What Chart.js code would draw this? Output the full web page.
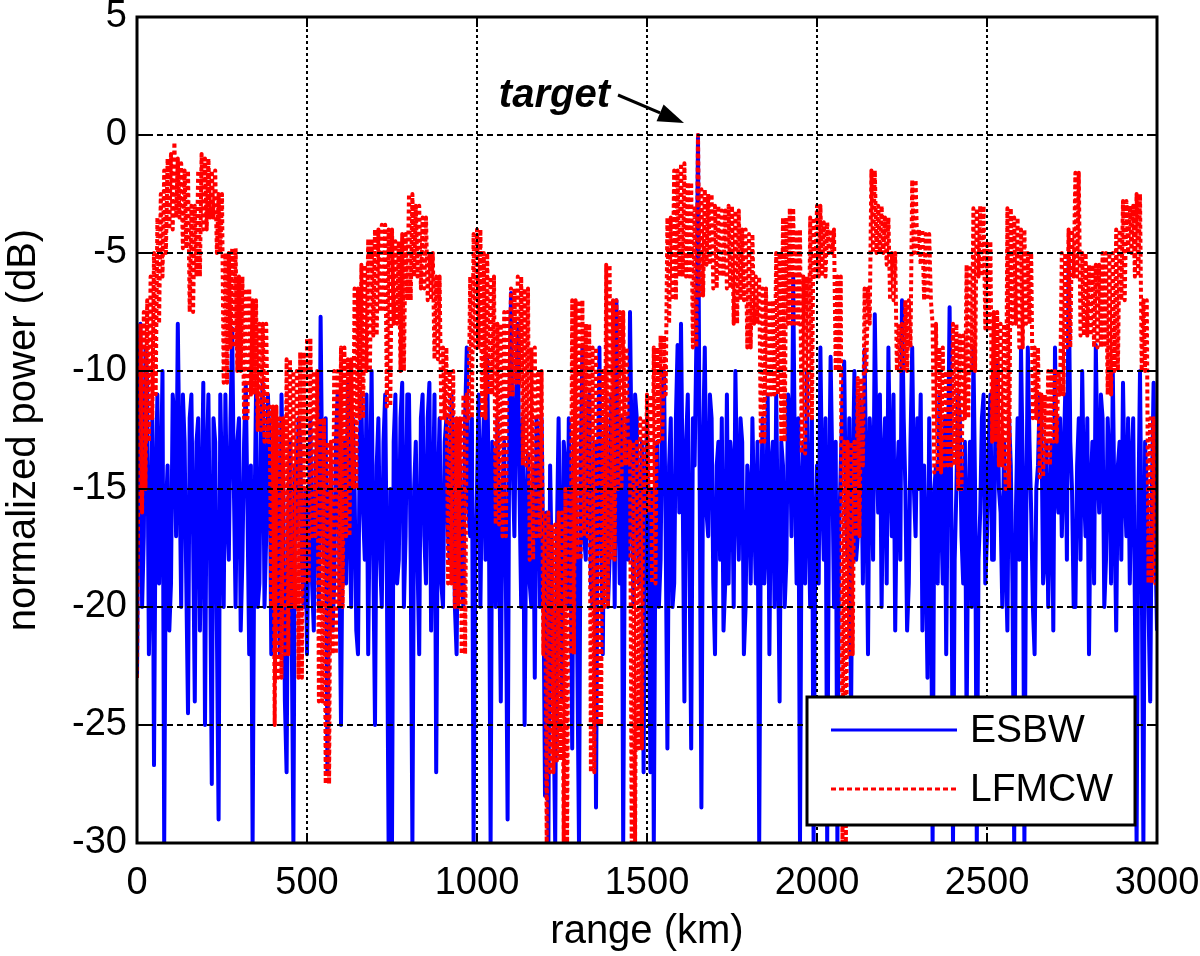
<!DOCTYPE html>
<html lang="en">
<head>
<meta charset="UTF-8">
<title>ESBW vs LFMCW range profile</title>
<script src="https://cdn.jsdelivr.net/npm/chart.js"></script>
<style>
  html, body { margin: 0; padding: 0; background: #fff; }
  #wrap { width: 1200px; height: 956px; }
</style>
</head>
<body>
<div id="wrap"><canvas id="rangeChart" width="1200" height="956"></canvas></div>
<script>
// samples every 5 km, 0..3000 km (20 values per 100 km row)
const rangeStep = 5;

// normalized power (dB)
const esbw = [
  -23,-13,-8,-20,-17,-9,-10.5,-22,-18,-12,-26.7,-15,-11,-19,-15,-10,-30,-16,-14,-21,
  -19,-11,-12,-17,-8,-14,-20,-11,-13,-19,-24.5,-12,-11,-17,-24,-13,-12,-21,-16,-10.5,
  -25,-14,-11,-18,-27.5,-12,-13,-21,-29,-11,-15,-20,-11,-16,-18,-12,-8.2,-15,-20,-13,
  -12,-21,-18,-13,-10.5,-16,-22,-14,-30,-17,-11,-20,-19,-12,-10.5,-20,-17,-11,-13,-22,
  -20,-14,-12,-19,-22,-11,-15,-24,-27,-16,-13,-21,-30,-14,-17,-12,-13,-18,-20,-15,
  -22,-16,-12,-19,-21,-14,-13,-20,-7.7,-15,-18,-12,-27,-17,-14,-21,-19,-13,-11,-18,
  -25,-16,-13,-19,-10.5,-16,-20,-12,-15,-21,-22,-13,-11,-16,-18,-11,-22,-15,-10,-18,
  -25,-14,-12,-18,-20,-13,-11,-19,-30,-15,-30,-13,-11,-19,-18,-12,-10.5,-20,-17,-11,
  -11,-18,-30,-15,-13,-18,-22,-12,-11,-17,-19,-12,-10.5,-21,-16,-11,-27,-15,-12,-19,
  -20,-13,-12,-17,-18,-11,-13,-20,-22,-15,-14,-19,-20,-12,-9,-16,-17,-12,-30,-18,
  -15,-11,-20,-14,-12,-18,-9.5,-16,-30,-13,-14,-20,-12,-17,-24,-15,-13,-19,-29,-12,
  -6.7,-14,-17,-11,-8,-15,-20,-12,-25,-16,-13.5,-19,-20,-14,-23,-12,-13,-20,-12,-18,
  -28,-16,-30,-14,-18.5,-24,-30,-17,-12,-18,-24,-13,-14,-20,-12,-17,-26,-13,-15,-22,
  -30,-14,-9,-17,-18,-12,-11,-19,-20,-13,-28.5,-15,-9,-16,-22,-13,-12,-20,-18,-11,
  -13,-20,-7,-15,-19,-12,-30,-16,-12,-18,-7.5,-14,-20,-11,-12,-19,-18,-13,-27,-16,
  -12,-18,-27,-15,-30,-16,-13,-20,-18,-11,-10,-17,-26,-14,-12,-20,-19,-12,-8.9,-16,
  -8,-15,-24,-13,-11,-18,-26,-12,-14,-9,0,-15,-28.5,-13,-9,-16,-17,-11,-12,-19,
  -22,-14,-13,-18,-12,-21,-19,-11,-19,-13,-14,-20,-10,-15,-18,-12,-13,-22,-20,-14,
  -15,-19,-12,-16,-19,-13,-30,-16,-12,-19,-17,-11,-22,-14,-13,-20,-11,-17,-24,-13,
  -14,-20,-18,-11,-12,-17,-6,-14,-19,-12,-30,-15,-13,-19,-10,-16,-20,-12,-30,-17,
  -14,-19,-9,-15,-18,-12,-30,-16,-9.4,-14,-20,-13,-30,-17,-14,-11,-9.6,-16,-18,-12,
  -25,-15,-10,-18,-17,-11,-13,-19,-9.1,-15,-22,-12,-14,-18,-7.6,-13,-16,-11,-20,-14,
  -12,-19,-9,-14,-17,-11,-21,-15,-13,-18,-7,-12,-15,-21,-19,-13,-9,-15,-17,-12,
  -15,-11,-21,-14,-18,-23,-12,-17,-30,-15,-14,-19,-11,-16,-19,-12,-22,-14,-7.3,-16,
  -30,-18,-15,-11,-12,-17,-19,-13,-25,-16,-13,-20,-9,-15,-30,-18,-16,-12,-11,-19,
  -17,-13,-11,-18,-18,-12,-9.7,-15,-16,-20,-13,-18,-21,-12,-14,-19,-30,-16,-12,-18,
  -9,-14,-30,-17,-9,-13,-16,-20,-22,-15,-14,-11,-12,-19,-18,-13,-20,-16,-13,-21,
  -9,-15,-16,-12,-17,-14,-11,-18,-5.2,-13,-15,-20,-20,-14,-12,-18,-10,-15,-17,-12,
  -22,-15,-13,-19,-8.9,-14,-16,-11,-12,-20,-18,-12,-14,-19,-10,-16,-21,-14,-13,-18,
  -10.5,-15,-17,-12,-19,-14,-12,-20,-30,-16,-10,-18,-30,-13,-15,-20,-24,-15,-10.5,-17,
  -21
];

const lfmcw = [
  -23,-12,-8,-16,-7.5,-15,-7,-13,-6,-12,-5,-11,-3.5,-8,-2.5,-6,-1.5,-5,-1,-4,
  -0.8,-4,-0.3,-3.5,-1,-3.5,-1.2,-4.8,-1.5,-4.8,-1.5,-7.5,-3,-7.5,-3,-6,-1.5,-6,-0.8,-4,
  -1,-4,-1,-3.5,-1.5,-3.5,-1.5,-5,-2.5,-5,-2.5,-10.5,-5,-10.5,-5,-9,-4.8,-9,-4.8,-10,
  -6,-10,-6,-12,-6.5,-12,-6.5,-11,-7,-11,-7,-12.5,-8,-12.5,-8,-13,-8,-13,-11.5,-20,
  -11.5,-25,-11.5,-23,-12,-23,-12,-22,-9.5,-22,-9.5,-20,-10,-20,-10,-23,-9.2,-23,-9.2,-19,
  -8.6,-19,-8.6,-17,-10,-17,-10,-24,-12,-24,-12,-27.5,-13,-27.5,-13,-22,-10,-22,-10,-20,
  -9,-20,-9,-17,-9.5,-17,-9.5,-15,-6.5,-15,-6.5,-12,-5.5,-12,-5.5,-10,-4.4,-10,-4.4,-8.5,
  -4,-8.5,-4,-7.5,-3.8,-7.5,-3.8,-11.5,-4,-11.5,-4,-8,-4.5,-8,-4.5,-10,-4.2,-10,-4.2,-7,
  -2.5,-7,-2.5,-6,-3,-6,-3,-6.5,-3.5,-6.5,-3.5,-7,-5,-7,-5,-9.5,-6,-9.5,-6,-12,
  -9,-12,-9,-19,-10,-19,-10,-20,-12,-20,-12,-22,-11,-22,-11,-12,-6,-12,-4.2,-9,
  -4,-9,-4,-12,-5,-12,-5,-11,-6,-11,-6,-16.5,-8,-16.5,-8,-17,-7.5,-17,-7.5,-11,
  -6.5,-11,-6.5,-10.5,-6,-10.5,-6,-14,-6.5,-14,-6.5,-18,-9,-18,-9,-17,-10,-17,-10,-22,
  -16,-30,-16,-27,-16.5,-27,-16.5,-26.5,-16,-26.5,-16,-30,-15,-30,-15,-22,-7,-22,-7,-18,
  -7,-18,-7,-17,-8,-17,-8,-27,-9,-27,-9,-25,-10,-25,-10,-20,-5.5,-20,-5.5,-18,
  -7,-18,-7,-15,-7.5,-15,-7.5,-14,-9,-14,-13,-30,-13,-30,-13,-26,-12,-26,-12,-16,
  -11,-16,-11,-19,-9,-19,-9,-13,-8.5,-13,-8.5,-11,-3.5,-8,-3.5,-7,-1.5,-7,-1.5,-6,
  -1.2,-6,-1.2,-6,-2,-6,-2,-9,-3,-9,0,-6.8,-2.3,-6.8,-2.3,-5.5,-2.5,-5.5,-2.5,-6.5,
  -3,-6.5,-3,-6,-3.2,-6,-3.2,-6.5,-3,-6.5,-3,-8,-3.2,-8,-3.2,-7,-4,-7,-4,-9,
  -4.2,-9,-4.2,-8,-6,-8,-6,-13,-6.5,-13,-6.5,-11,-7,-11,-7,-11,-5,-11,-5,-13,
  -3.5,-13,-3.5,-8,-3.1,-8,-3.1,-8,-4,-8,-4,-13.5,-6,-13.5,-6,-12,-3.5,-12,-3.5,-6,
  -3,-6,-3,-6,-3.7,-6,-3.7,-5,-4,-5,-4,-10,-6,-10,-6,-30,-13,-30,-13,-22,
  -13,-22,-13,-17,-10.3,-17,-10.3,-14,-6.5,-10,-6.5,-8,-1.5,-5,-1.5,-5,-3,-5,-3,-5,
  -3.5,-5.5,-3.5,-7,-5,-7,-5,-10,-8,-10,-8,-10,-7,-10,-7,-9,-1.9,-5,-1.9,-5,
  -4,-5.5,-4,-7,-4.2,-7,-4.2,-7,-8,-14.3,-8,-14.3,-9,-14.3,-9,-14,-10,-14,-10,-14,
  -8,-14,-8,-15,-8.5,-15,-8.5,-12,-5.5,-12,-5.5,-10,-3.1,-10,-3.1,-6,-3,-6,-3,-8.2,
  -4.5,-8.2,-4.5,-13,-7.5,-13,-7.5,-14,-8,-14,-8,-15,-3.1,-15,-3.1,-8,-3.5,-8,-3.5,-9,
  -4,-9,-4,-8,-5,-8,-5,-12,-9,-12,-9,-14.5,-11,-14.5,-11,-14,-10,-14,-10,-13,
  -10,-13,-10,-11,-5,-11,-5,-9,-4,-9,-4,-6,-1.6,-6,-1.6,-8.5,-5,-8.5,-5,-8.5,
  -5.5,-8.5,-5.5,-9,-5.5,-9,-5.5,-9,-5,-9,-5,-11,-5,-11,-5,-10,-4,-10,-4,-7,
  -2.8,-7,-2.8,-5,-3,-5,-3,-6,-2.5,-6,-2.5,-10,-7,-10,-7,-19,-12,-19,-12,-19,
  -19
];

const seriesNames = ['ESBW', 'LFMCW'];
const target = { range: 1650, power: 0, label: 'target' };

const FONT = '"Liberation Sans", Arial, Helvetica, sans-serif';

function toPoints(arr) {
    return arr.map((v, i) => ({ x: i * rangeStep, y: v }));
}

// black frame, inward ticks, legend box and the target annotation
const matlabLook = {
    id: 'matlabLook',
    afterDraw(chart) {
        const { ctx, chartArea: a, scales } = chart;
        const xs = scales.x, ys = scales.y;
        ctx.save();

        // legend box
        const lx1 = a.right - 22, ly2 = a.bottom - 18;
        const lx0 = lx1 - 328, ly0 = ly2 - 128;
        ctx.fillStyle = '#fff';
        ctx.fillRect(lx0, ly0, lx1 - lx0, ly2 - ly0);
        ctx.lineWidth = 3;
        ctx.strokeStyle = '#000';
        ctx.strokeRect(lx0, ly0, lx1 - lx0, ly2 - ly0);

        const rows = [ly0 + 33, ly0 + 92];
        ctx.lineWidth = 3;
        ctx.strokeStyle = '#0000ff';
        ctx.beginPath();
        ctx.moveTo(lx0 + 24, rows[0]);
        ctx.lineTo(lx0 + 150, rows[0]);
        ctx.stroke();
        ctx.strokeStyle = '#ff0000';
        ctx.setLineDash([5, 3]);
        ctx.beginPath();
        ctx.moveTo(lx0 + 24, rows[1]);
        ctx.lineTo(lx0 + 150, rows[1]);
        ctx.stroke();
        ctx.setLineDash([]);

        ctx.fillStyle = '#000';
        ctx.font = '39px ' + FONT;
        ctx.textBaseline = 'middle';
        ctx.textAlign = 'left';
        ctx.fillText(seriesNames[0], lx0 + 163, rows[0] + 1);
        ctx.fillText(seriesNames[1], lx0 + 163, rows[1] + 1);

        // inward ticks
        ctx.lineWidth = 2;
        ctx.strokeStyle = '#000';
        ctx.beginPath();
        xs.ticks.forEach(t => {
            const px = xs.getPixelForValue(t.value);
            ctx.moveTo(px, a.bottom); ctx.lineTo(px, a.bottom - 10);
            ctx.moveTo(px, a.top); ctx.lineTo(px, a.top + 10);
        });
        ys.ticks.forEach(t => {
            const py = ys.getPixelForValue(t.value);
            ctx.moveTo(a.left, py); ctx.lineTo(a.left + 10, py);
            ctx.moveTo(a.right, py); ctx.lineTo(a.right - 10, py);
        });
        ctx.stroke();

        // frame
        ctx.lineWidth = 3;
        ctx.strokeRect(a.left, a.top, a.right - a.left, a.bottom - a.top);

        // target annotation
        const tx = xs.getPixelForValue(target.range);
        const ty = ys.getPixelForValue(target.power);
        ctx.font = 'italic bold 40px ' + FONT;
        ctx.textAlign = 'right';
        ctx.textBaseline = 'alphabetic';
        ctx.fillText(target.label, tx - 88, ty - 28);

        const sx = tx - 80, sy = ty - 40;
        const ex = tx - 14, ey = ty - 12;
        const ang = Math.atan2(ey - sy, ex - sx);
        const headLen = 26, headW = 9;
        const bx = ex - headLen * Math.cos(ang), by = ey - headLen * Math.sin(ang);
        ctx.lineWidth = 3;
        ctx.beginPath();
        ctx.moveTo(sx, sy);
        ctx.lineTo(bx, by);
        ctx.stroke();
        ctx.beginPath();
        ctx.moveTo(ex, ey);
        ctx.lineTo(bx + headW * Math.sin(ang), by - headW * Math.cos(ang));
        ctx.lineTo(bx - headW * Math.sin(ang), by + headW * Math.cos(ang));
        ctx.closePath();
        ctx.fill();

        ctx.restore();
    }
};

const ctx = document.getElementById('rangeChart').getContext('2d');
const chart = new Chart(ctx, {
    type: 'line',
    data: {
        datasets: [
            {
                label: seriesNames[1],
                data: toPoints(lfmcw),
                borderColor: '#ff0000',
                borderWidth: 4,
                borderDash: [4, 3],
                pointRadius: 0,
                tension: 0,
                borderJoinStyle: 'round',
                order: 0
            },
            {
                label: seriesNames[0],
                data: toPoints(esbw),
                borderColor: '#0000ff',
                borderWidth: 4,
                pointRadius: 0,
                tension: 0,
                borderJoinStyle: 'round',
                order: 1
            }
        ]
    },
    options: {
        responsive: false,
        animation: false,
        devicePixelRatio: 1,
        layout: { padding: { top: 17, right: 43, left: 0, bottom: 0 } },
        plugins: {
            legend: { display: false },
            tooltip: { enabled: false }
        },
        scales: {
            x: {
                type: 'linear',
                min: 0,
                max: 3000,
                ticks: {
                    stepSize: 500,
                    color: '#000',
                    padding: 18,
                    maxRotation: 0,
                    font: { family: FONT, size: 38 },
                    callback: v => String(v)
                },
                grid: { color: '#000', lineWidth: 2, drawTicks: false, z: 1 },
                border: { display: false, dash: [3, 3] },
                title: {
                    display: true,
                    text: 'range (km)',
                    color: '#000',
                    padding: 0,
                    font: { family: FONT, size: 40 }
                },
                afterFit(scale) {
                    scale.height = 113;
                    scale.paddingLeft = 0;
                    scale.paddingRight = 0;
                }
            },
            y: {
                min: -30,
                max: 5,
                ticks: {
                    stepSize: 5,
                    color: '#000',
                    padding: 10,
                    font: { family: FONT, size: 38 }
                },
                grid: { color: '#000', lineWidth: 2, drawTicks: false, z: 1 },
                border: { display: false, dash: [6, 4] },
                title: {
                    display: true,
                    text: 'normalized power (dB)',
                    color: '#000',
                    padding: 0,
                    font: { family: FONT, size: 40 }
                },
                afterFit(scale) {
                    scale.width = 137;
                    scale.paddingTop = 0;
                    scale.paddingBottom = 0;
                }
            }
        }
    },
    plugins: [matlabLook]
});
</script>
</body>
</html>
